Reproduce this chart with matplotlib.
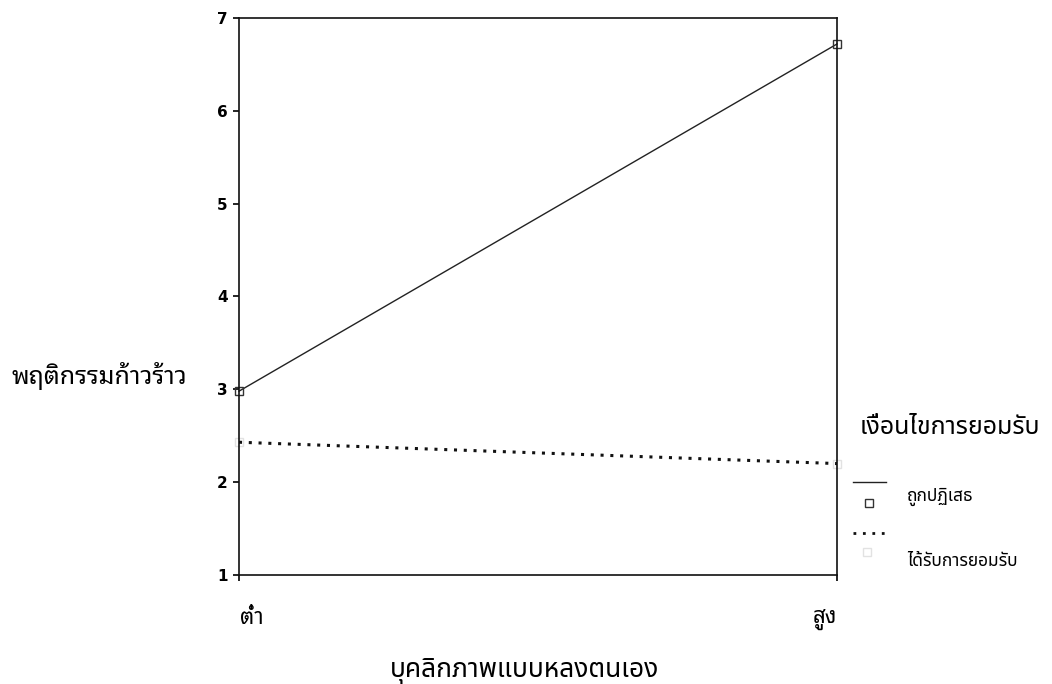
import matplotlib
matplotlib.use("Agg")
import matplotlib.pyplot as plt
import matplotlib.transforms as mtransforms
from matplotlib.lines import Line2D

# data
x_levels = ["ต่ำ", "สูง"]
rejected = [2.98, 6.72]      # ถูกปฏิเสธ
accepted = [2.43, 2.20]      # ได้รับการยอมรับ
series_names = ["ถูกปฏิเสธ", "ได้รับการยอมรับ"]
y_ticks = [1, 2, 3, 4, 5, 6, 7]

looped = ["Noto Sans Thai Looped", "DejaVu Sans"]
plain = ["Noto Sans Thai", "DejaVu Sans"]
plt.rcParams["font.family"] = looped

fig = plt.figure(figsize=(10.52, 6.84), dpi=100)
ax = fig.add_axes([239 / 1052, 0.1594, 598 / 1052, 0.8143])

xs = list(range(len(x_levels)))
ax.plot(xs, rejected, color="#222222", lw=1.0, marker="s", ms=6,
        mfc="none", mec="#333333", mew=1.0, clip_on=False)
ax.plot(xs, accepted, color="#111111", lw=2.2, linestyle=(0, (1, 2.2)),
        marker="s", ms=6, mfc="none", mec="#e2e2e2", mew=1.0, clip_on=False)

ax.set_xlim(0, 1)
ax.set_ylim(1, 7)
ax.set_yticks(y_ticks)
ax.set_yticklabels([str(t) for t in y_ticks], family=["DejaVu Sans"],
                   fontweight="bold", fontsize=11)
ax.set_xticks(xs)
ax.set_xticklabels(x_levels, fontsize=16, family=looped)
ax.tick_params(axis="x", length=4, width=1.2, pad=20)
ax.tick_params(axis="y", length=4, width=1.2, pad=4)
# nudge the two category labels inward like in the scan
shifts = [13, -12]
for lab, dx in zip(ax.get_xticklabels(), shifts):
    lab.set_transform(lab.get_transform() +
                      mtransforms.ScaledTranslation(dx / 100, 0, fig.dpi_scale_trans))
for s in ax.spines.values():
    s.set_linewidth(1.2)
    s.set_color("#111111")

# axis titles
fig.text(12 / 1052, 1 - 376 / 684, "พฤติกรรมก้าวร้าว", fontsize=18,
         family=looped, va="center", ha="left")
fig.text(524 / 1052, 1 - 670 / 684, "บุคลิกภาพแบบหลงตนเอง", fontsize=19,
         family=plain, va="center", ha="center")

# legend drawn beside the plot, like the scanned SPSS output
fig.text(860 / 1052, 1 - 427 / 684, "เงื่อนไขการยอมรับ", fontsize=18,
         family=plain, va="center", ha="left")
fig.add_artist(Line2D([853 / 1052, 886 / 1052], [1 - 482 / 684] * 2,
                      transform=fig.transFigure, color="#222222", lw=1.0))
fig.add_artist(Line2D([869 / 1052], [1 - 503 / 684], transform=fig.transFigure,
                      marker="s", ms=6, mfc="none", mec="#333333", mew=1.0))
fig.text(907 / 1052, 1 - 497 / 684, series_names[0], fontsize=12.5,
         family=plain, va="center", ha="left")
fig.add_artist(Line2D([853 / 1052, 886 / 1052], [1 - 533 / 684] * 2,
                      transform=fig.transFigure, color="#111111", lw=2.0,
                      linestyle=(0, (1, 2.4))))
fig.add_artist(Line2D([867 / 1052], [1 - 552 / 684], transform=fig.transFigure,
                      marker="s", ms=6, mfc="none", mec="#e2e2e2", mew=1.0))
fig.text(907 / 1052, 1 - 561 / 684, series_names[1], fontsize=12.5,
         family=plain, va="center", ha="left")

fig.savefig("out.png", dpi=100)
